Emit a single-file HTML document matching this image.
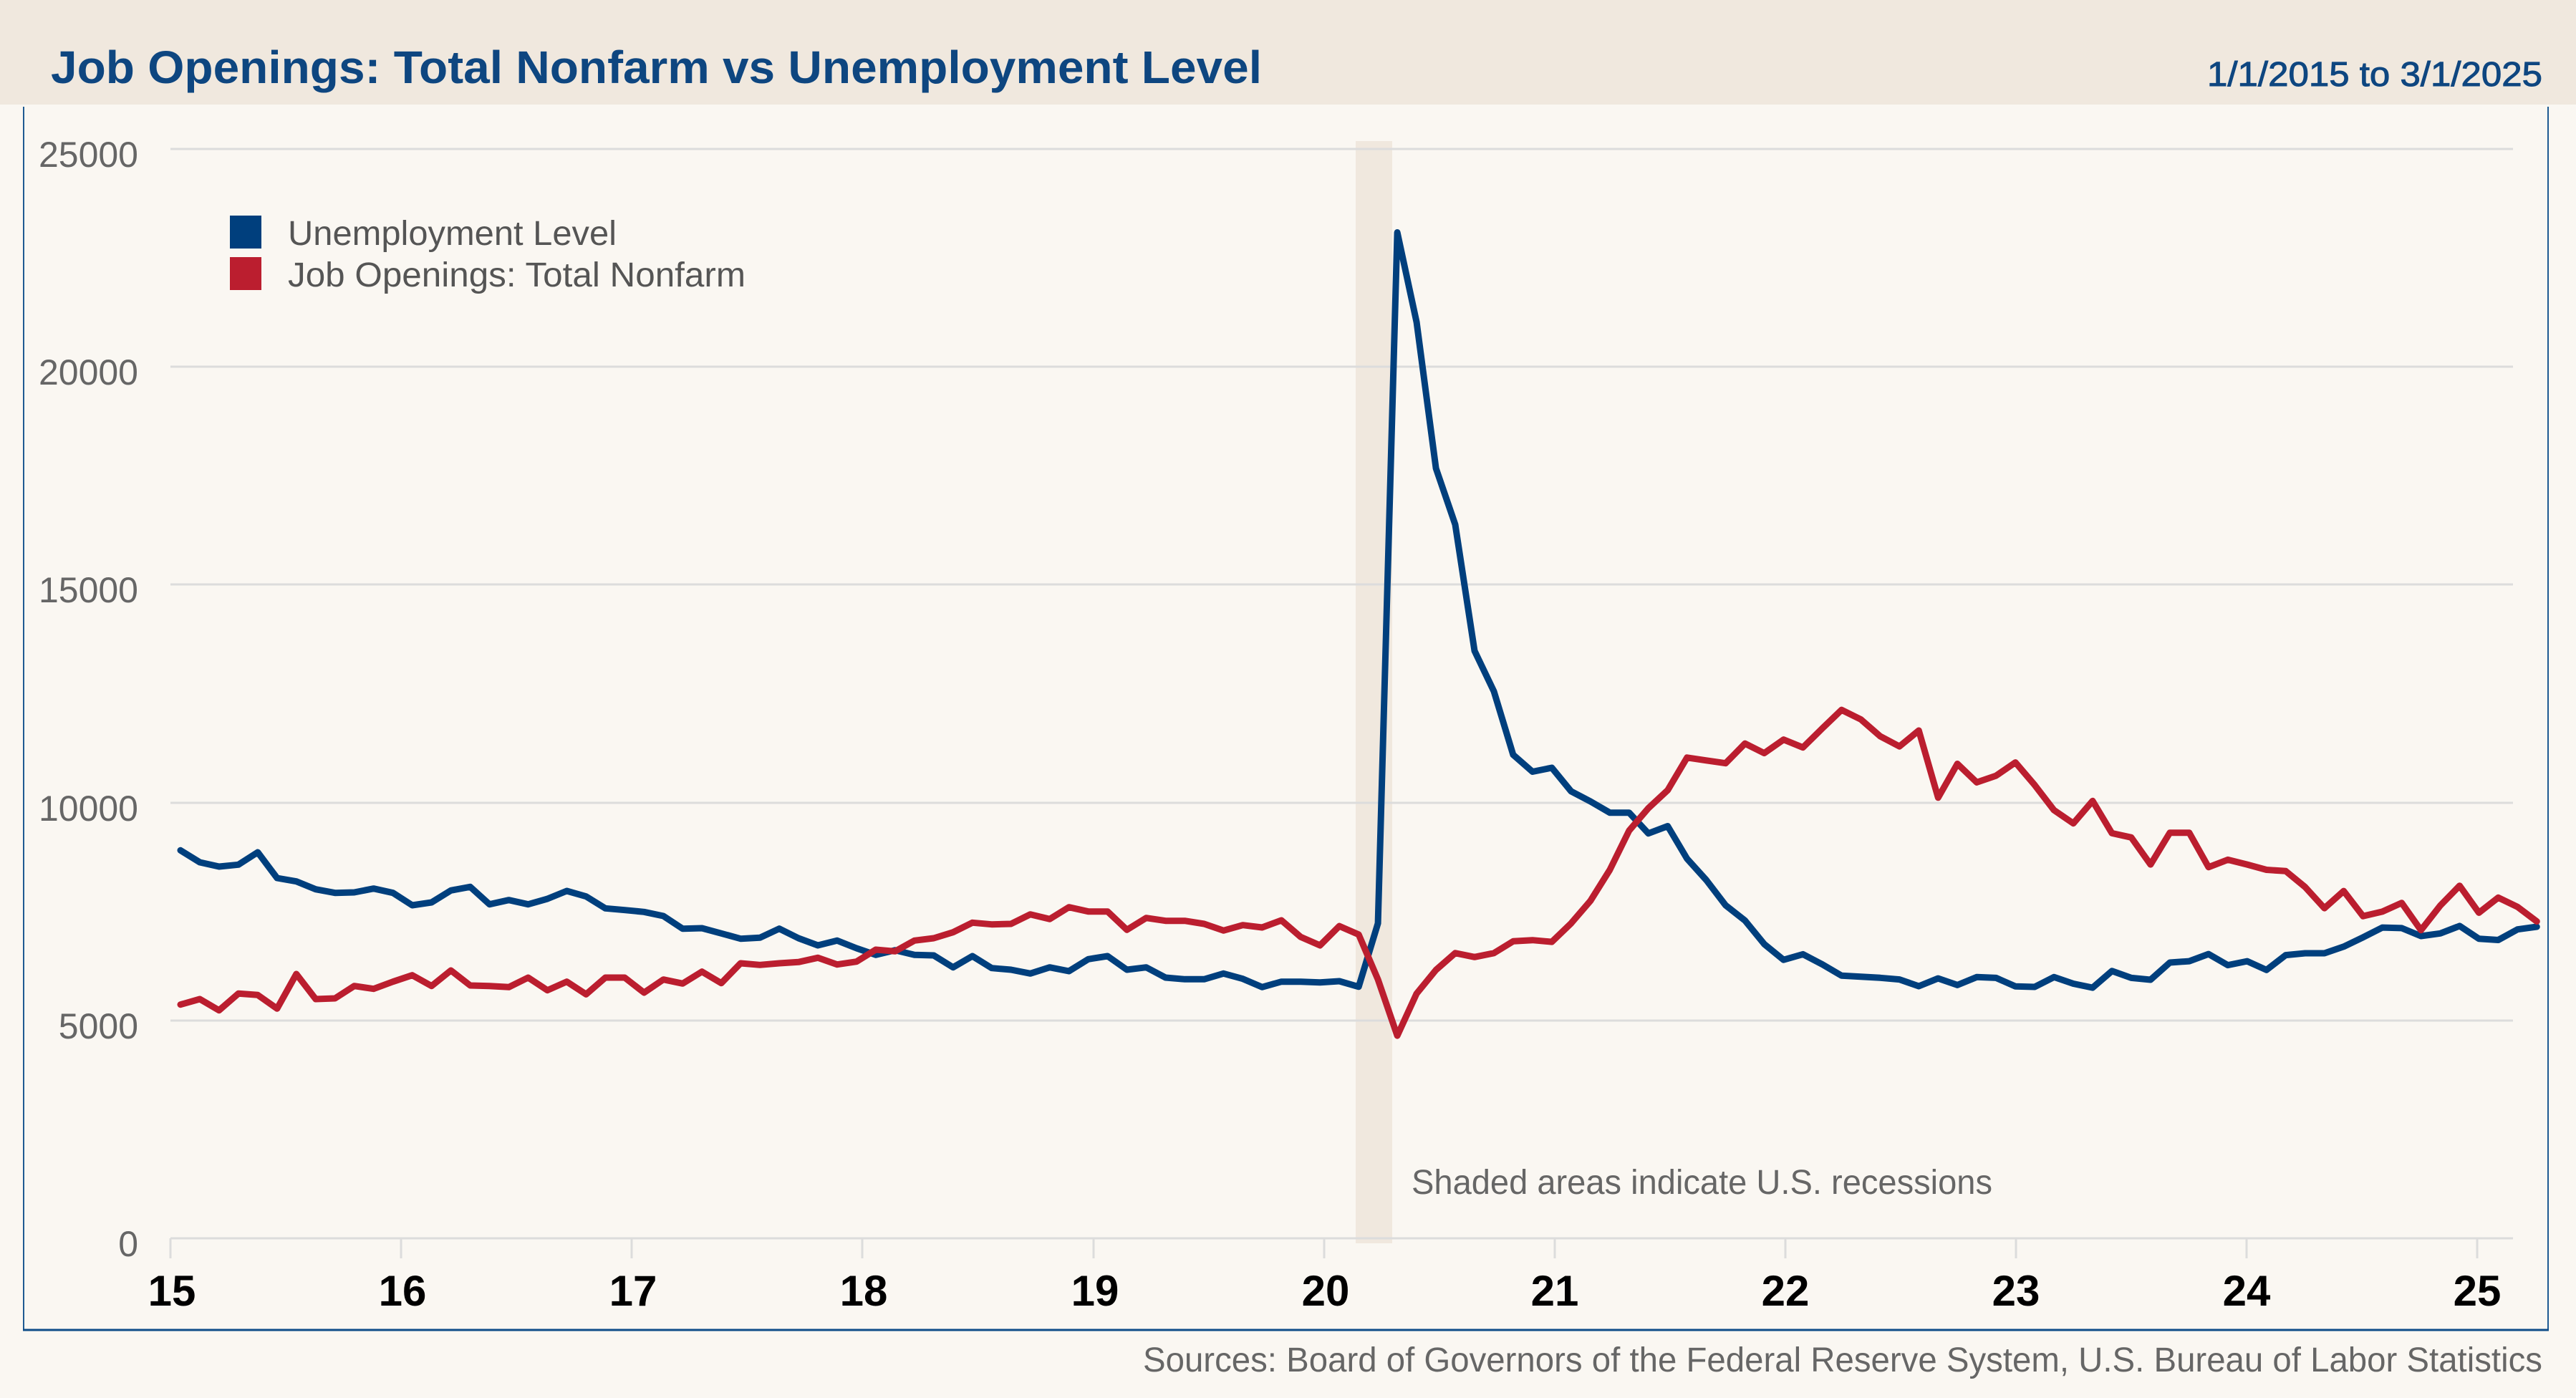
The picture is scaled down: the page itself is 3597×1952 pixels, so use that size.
<!DOCTYPE html>
<html><head><meta charset="utf-8"><style>
html,body{margin:0;padding:0;background:#FAF7F2;}
svg{display:block;}
text{font-family:"Liberation Sans",sans-serif;}
</style></head><body>
<svg width="3597" height="1952" viewBox="0 0 3597 1952" xmlns="http://www.w3.org/2000/svg">
<rect x="0" y="0" width="3597" height="1952" fill="#FAF7F2"/>
<rect x="0" y="0" width="3597" height="146" fill="#F0E8DE"/>
<text x="71" y="116" font-size="64" font-weight="bold" fill="#0E4680" textLength="1691" lengthAdjust="spacingAndGlyphs">Job Openings: Total Nonfarm vs Unemployment Level</text>
<text x="3550" y="120" font-size="48" fill="#0E4680" stroke="#0E4680" stroke-width="1" text-anchor="end" textLength="468" lengthAdjust="spacingAndGlyphs">1/1/2015 to 3/1/2025</text>
<!-- frame -->
<line x1="33" y1="149" x2="33" y2="1858" stroke="#1F5A92" stroke-width="2"/>
<line x1="3558" y1="149" x2="3558" y2="1858" stroke="#1F5A92" stroke-width="2"/>
<line x1="32" y1="1857" x2="3559" y2="1857" stroke="#0E4C88" stroke-width="3"/>
<!-- recession -->
<rect x="1893" y="197" width="51" height="1539" fill="#F0E8DE"/>
<!-- gridlines -->
<g stroke="#DCDCDC" stroke-width="3">
<line x1="238" y1="208" x2="3509" y2="208"/>
<line x1="238" y1="512" x2="3509" y2="512"/>
<line x1="238" y1="816" x2="3509" y2="816"/>
<line x1="238" y1="1121" x2="3509" y2="1121"/>
<line x1="238" y1="1425" x2="3509" y2="1425"/>
<line x1="238" y1="1729" x2="3509" y2="1729"/>
<line x1="238" y1="1729" x2="238" y2="1757"/>
<line x1="560" y1="1729" x2="560" y2="1757"/>
<line x1="882" y1="1729" x2="882" y2="1757"/>
<line x1="1204" y1="1729" x2="1204" y2="1757"/>
<line x1="1527" y1="1729" x2="1527" y2="1757"/>
<line x1="1849" y1="1729" x2="1849" y2="1757"/>
<line x1="2171" y1="1729" x2="2171" y2="1757"/>
<line x1="2493" y1="1729" x2="2493" y2="1757"/>
<line x1="2815" y1="1729" x2="2815" y2="1757"/>
<line x1="3137" y1="1729" x2="3137" y2="1757"/>
<line x1="3459" y1="1729" x2="3459" y2="1757"/>
</g>
<!-- y labels -->
<g font-size="50" fill="#666666" text-anchor="end">
<text x="193" y="233">25000</text>
<text x="193" y="537">20000</text>
<text x="193" y="841">15000</text>
<text x="193" y="1146">10000</text>
<text x="193" y="1450">5000</text>
<text x="193" y="1754">0</text>
</g>
<!-- x labels -->
<g font-size="60" font-weight="bold" fill="#000" text-anchor="middle">
<text x="240" y="1823">15</text>
<text x="562" y="1823">16</text>
<text x="884" y="1823">17</text>
<text x="1206" y="1823">18</text>
<text x="1529" y="1823">19</text>
<text x="1851" y="1823">20</text>
<text x="2171" y="1823">21</text>
<text x="2493" y="1823">22</text>
<text x="2815" y="1823">23</text>
<text x="3137" y="1823">24</text>
<text x="3459" y="1823">25</text>
</g>
<!-- legend -->
<rect x="321" y="301" width="44" height="46" fill="#003F7D"/>
<rect x="321" y="359" width="44" height="46" fill="#BB1E2F"/>
<text x="402" y="342" font-size="48" fill="#555555" textLength="459" lengthAdjust="spacingAndGlyphs">Unemployment Level</text>
<text x="402" y="400" font-size="48" fill="#555555" textLength="639" lengthAdjust="spacingAndGlyphs">Job Openings: Total Nonfarm</text>
<text x="1971" y="1667" font-size="48" fill="#666666" textLength="811" lengthAdjust="spacingAndGlyphs">Shaded areas indicate U.S. recessions</text>
<text x="3550" y="1915" font-size="48" fill="#666666" text-anchor="end" textLength="1954" lengthAdjust="spacingAndGlyphs">Sources: Board of Governors of the Federal Reserve System, U.S. Bureau of Labor Statistics</text>
<!-- unemployment -->
<polyline fill="none" stroke="#003F7D" stroke-width="9" stroke-linejoin="round" stroke-linecap="round" points="
252,1187.3 279,1204 305.9,1210 332.9,1207.3 359.9,1190 386.9,1226 413.8,1230.7 440.8,1241.7 467.8,1246.7 494.7,1246 521.7,1240.7 548.7,1246.7
575.6,1264 602.6,1260 629.6,1243.3 656.6,1238.3 683.5,1262.7 710.5,1256.7 737.5,1262.7 764.4,1255 791.4,1244 818.4,1251.7 845.3,1268.3 872.3,1270.7
899.3,1273.3 926.3,1279 953.2,1296.7 980.2,1296 1007.2,1303.3 1034.1,1310.7 1061.1,1309.3 1088.1,1296.7 1115,1310 1142,1320 1169,1313.3 1196,1324
1222.9,1333.3 1249.9,1326.7 1276.9,1333.3 1303.8,1334 1330.8,1350.7 1357.8,1335 1384.7,1351.7 1411.7,1354 1438.7,1359.3 1465.7,1350.7 1492.6,1356 1519.6,1339.3
1546.6,1335 1573.5,1354 1600.5,1350.7 1627.5,1365 1654.4,1367.3 1681.4,1367.3 1708.4,1359.3 1735.4,1366.7 1762.3,1378.3 1789.3,1370.7 1816.3,1370.7 1843.2,1371.7
1870.2,1370 1897.2,1377.8 1924.1,1289.2 1951.1,324.5 1978.1,450 2005.1,653.9 2032,732.4 2059,908.8 2086,965.3 2112.9,1053.9 2139.9,1077.5 2166.9,1072
2193.8,1104.9 2220.8,1119 2247.8,1134.7 2274.8,1134.7 2301.7,1163.7 2328.7,1153.5 2355.7,1199 2382.6,1228.8 2409.6,1264.1 2436.6,1285.3 2463.5,1318.2 2490.5,1340.2
2517.5,1332.4 2544.5,1346.5 2571.4,1362.2 2598.4,1363.7 2625.4,1365.3 2652.3,1367.6 2679.3,1377 2706.3,1366.1 2733.2,1375.4 2760.2,1364.3 2787.2,1365.4 2814.2,1377.2
2841.1,1378 2868.1,1364.3 2895.1,1373.5 2922,1379.1 2949,1355.8 2976,1365.4 3002.9,1368 3029.9,1344 3056.9,1342.1 3083.9,1332.1 3110.8,1347.6 3137.8,1342.1
3164.8,1354.3 3191.7,1333.6 3218.7,1331 3245.7,1331 3272.6,1321.8 3299.6,1308.8 3326.6,1295.1 3353.6,1295.9 3380.5,1307 3407.5,1303.3 3434.5,1292.9 3461.4,1310.7
3488.4,1312.5 3515.4,1297.7 3542.3,1294"/>
<!-- job openings -->
<polyline fill="none" stroke="#BB1E2F" stroke-width="9" stroke-linejoin="round" stroke-linecap="round" points="
252,1402.7 279,1395 305.9,1410.7 332.9,1387.3 359.9,1389.3 386.9,1408.3 413.8,1360 440.8,1395 467.8,1394 494.7,1376.7 521.7,1380.7 548.7,1370.7
575.6,1361.7 602.6,1376.7 629.6,1355 656.6,1376 683.5,1376.7 710.5,1378.3 737.5,1365 764.4,1382.7 791.4,1370.7 818.4,1388.3 845.3,1365 872.3,1365
899.3,1386 926.3,1367.7 953.2,1373.3 980.2,1356.7 1007.2,1372.7 1034.1,1345 1061.1,1347.3 1088.1,1345 1115,1343.3 1142,1337.3 1169,1346.7 1196,1342.7
1222.9,1326 1249.9,1328.3 1276.9,1313.3 1303.8,1310 1330.8,1301.7 1357.8,1288.3 1384.7,1290.7 1411.7,1290 1438.7,1276.7 1465.7,1283.3 1492.6,1266.7 1519.6,1272.7
1546.6,1272.7 1573.5,1298.3 1600.5,1281.7 1627.5,1285.7 1654.4,1285.7 1681.4,1290 1708.4,1299.3 1735.4,1291.7 1762.3,1295 1789.3,1285 1816.3,1308.3 1843.2,1320
1870.2,1293.1 1897.2,1304.9 1924.1,1367.6 1951.1,1446.1 1978.1,1387.3 2005.1,1354.3 2032,1330.8 2059,1336.3 2086,1330.8 2112.9,1314.3 2139.9,1312.7 2166.9,1315.1
2193.8,1289.2 2220.8,1257.8 2247.8,1214.7 2274.8,1159.8 2301.7,1128.4 2328.7,1103.3 2355.7,1057.8 2382.6,1061.8 2409.6,1065.7 2436.6,1038.2 2463.5,1051.6 2490.5,1032.7
2517.5,1043.7 2544.5,1017.1 2571.4,991.2 2598.4,1004.5 2625.4,1028 2652.3,1042.2 2679.3,1020 2706.3,1113.8 2733.2,1066.5 2760.2,1092.4 2787.2,1083.1 2814.2,1064.6
2841.1,1096.1 2868.1,1131.2 2895.1,1149.7 2922,1118.3 2949,1163.4 2976,1169.3 3002.9,1207.1 3029.9,1162.7 3056.9,1162.7 3083.9,1210.8 3110.8,1200.4 3137.8,1207.1
3164.8,1214.5 3191.7,1216.3 3218.7,1238.5 3245.7,1268.1 3272.6,1244.1 3299.6,1279.2 3326.6,1272.9 3353.6,1260.7 3380.5,1298.8 3407.5,1264.4 3434.5,1236.7 3461.4,1274.4
3488.4,1253.3 3515.4,1266.3 3542.3,1286.6"/>
</svg>
</body></html>
